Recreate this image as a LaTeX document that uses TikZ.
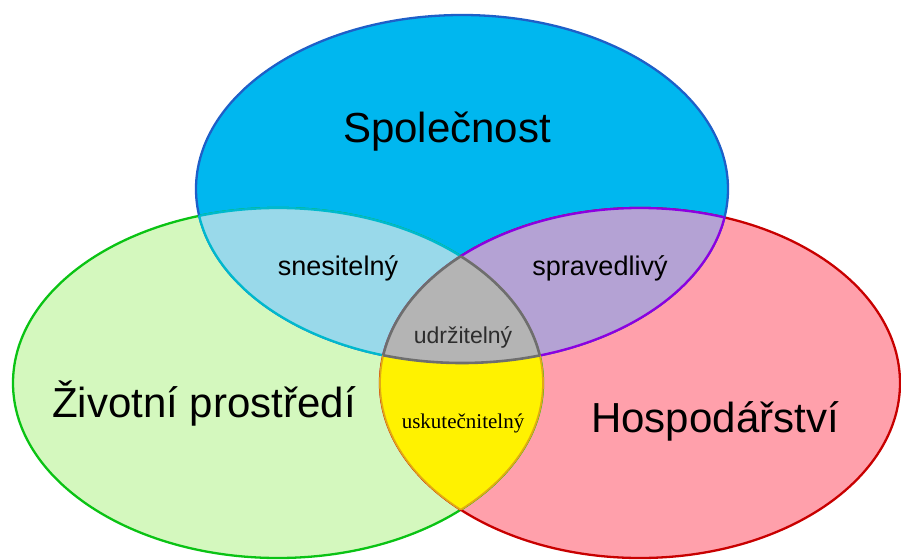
\documentclass[tikz,border=0pt]{standalone}
\usepackage{fontspec}
\setmainfont{Liberation Sans}
\newfontfamily\seriffam{Liberation Serif}
\definecolor{topfill}{RGB}{0,183,239}
\definecolor{topline}{RGB}{30,95,200}
\definecolor{leftfill}{RGB}{212,248,190}
\definecolor{leftline}{RGB}{10,195,20}
\definecolor{rightfill}{RGB}{255,160,171}
\definecolor{rightline}{RGB}{200,0,0}
\definecolor{tlfill}{RGB}{153,217,234}
\definecolor{tlline}{RGB}{0,185,205}
\definecolor{trfill}{RGB}{180,162,212}
\definecolor{trline}{RGB}{140,0,225}
\definecolor{lrfill}{RGB}{255,242,0}
\definecolor{lrline}{RGB}{225,170,20}
\definecolor{midfill}{RGB}{180,180,180}
\definecolor{midline}{RGB}{110,110,110}
\definecolor{midtext}{RGB}{45,45,45}
\def\topE{(462,189) ellipse [x radius=266pt, y radius=174pt]}
\def\leftE{(278,383) ellipse [x radius=265pt, y radius=175pt]}
\def\rightE{(640,383) ellipse [x radius=260pt, y radius=175pt]}
\begin{document}
\begin{tikzpicture}[x=1pt,y=-1pt,
  outline/.style={line width=2.3pt},
  biglabel/.style={anchor=base, font=\fontsize{42}{48}\selectfont, text=black, inner sep=0pt},
  smalllabel/.style={anchor=base, font=\fontsize{27}{31}\selectfont, text=black, inner sep=0pt}]
\useasboundingbox (0,0) rectangle (901,559);
\clip (0,0) rectangle (901,559);
% base ellipses
\fill[leftfill] \leftE;
\fill[rightfill] \rightE;
\fill[topfill] \topE;
\draw[outline, leftline] \leftE;
\draw[outline, rightline] \rightE;
\draw[outline, topline] \topE;
% top & left
\begin{scope}
  \clip \leftE;
  \fill[tlfill] \topE;
  \draw[outline, tlline] \topE;
\end{scope}
\begin{scope}
  \clip \topE;
  \draw[outline, tlline] \leftE;
\end{scope}
% top & right
\begin{scope}
  \clip \rightE;
  \fill[trfill] \topE;
  \draw[outline, trline] \topE;
\end{scope}
\begin{scope}
  \clip \topE;
  \draw[outline, trline] \rightE;
\end{scope}
% left & right
\begin{scope}
  \clip \leftE;
  \fill[lrfill] \rightE;
  \draw[line width=1.8pt, lrline] \rightE;
\end{scope}
\begin{scope}
  \clip \rightE;
  \draw[line width=1.8pt, lrline] \leftE;
\end{scope}
% all three
\begin{scope}
  \clip \leftE;
  \clip \rightE;
  \fill[midfill] \topE;
  \draw[line width=2.6pt, midline] \topE;
\end{scope}
\begin{scope}
  \clip \topE;
  \clip \rightE;
  \draw[line width=2.6pt, midline] \leftE;
\end{scope}
\begin{scope}
  \clip \topE;
  \clip \leftE;
  \draw[line width=2.6pt, midline] \rightE;
\end{scope}
% labels
\node[biglabel] (spol) at (447,142) {Společnost};
\node[biglabel] (ziv) at (204,417) {Životní prostředí};
\node[biglabel] (hosp) at (715,432) {Hospodářství};
\node[smalllabel] (snes) at (338,275) {snesitelný};
\node[smalllabel] (sprav) at (600,275) {spravedlivý};
\node[anchor=base, inner sep=0pt, text=midtext, font=\fontsize{23}{27}\selectfont] (udrz) at (463,343) {udržitelný};
\node[anchor=base, inner sep=0pt, text=black, font=\seriffam\fontsize{21}{25}\selectfont] (usk) at (463,428) {uskutečnitelný};
\end{tikzpicture}
\end{document}
